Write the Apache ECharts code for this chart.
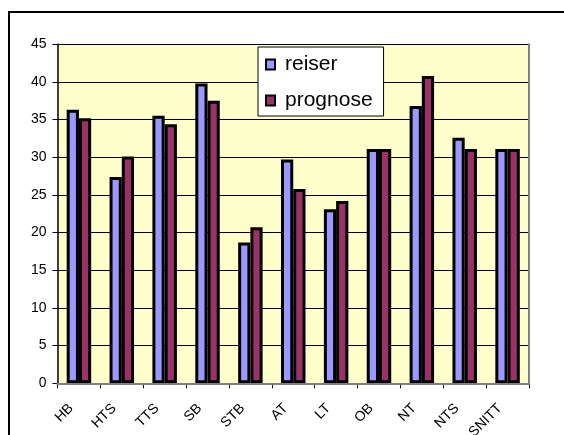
<!DOCTYPE html>
<html>
<head>
<meta charset="utf-8">
<script src="https://cdn.jsdelivr.net/npm/echarts@6/dist/echarts.min.js"></script>
<style>
  html, body { margin: 0; padding: 0; background: #ffffff; }
  #chart { width: 564px; height: 435px; }
</style>
</head>
<body>
<div id="chart"></div>
<script>
// Station categories along the x axis
const categories = ['HB', 'HTS', 'TTS', 'SB', 'STB', 'AT', 'LT', 'OB', 'NT', 'NTS', 'SNITT'];

// Observed trips per station
const reiser = [36.3, 27.4, 35.5, 39.8, 18.7, 29.7, 23.1, 31.1, 36.8, 32.6, 31.1];

// Forecast trips per station
const prognose = [35.2, 30.1, 34.4, 37.5, 20.7, 25.8, 24.2, 31.1, 40.8, 31.1, 31.1];

// Value axis range and step
const yMin = 0;
const yMax = 45;
const yStep = 5;

const FONT = '"Liberation Sans", Arial, sans-serif';

const chart = echarts.init(document.getElementById('chart'), null, { renderer: 'canvas' });

chart.setOption({
  animation: false,
  backgroundColor: '#ffffff',
  textStyle: { fontFamily: FONT, color: '#000000' },
  graphic: [{
    // outer chart-area frame
    type: 'rect',
    shape: { x: 9, y: 12, width: 700, height: 600 },
    style: { fill: 'none', stroke: '#000000', lineWidth: 2 },
    silent: true,
    z: 100
  }],
  grid: {
    left: 57.5,
    right: 35,
    top: 44.3,
    bottom: 51.7,
    containLabel: false,
    outerBoundsMode: 'none',
    show: true,
    backgroundColor: '#FFFFCC',
    borderWidth: 0
  },
  legend: {
    left: 258,
    top: 47,
    orient: 'vertical',
    backgroundColor: '#ffffff',
    borderColor: '#000000',
    borderWidth: 1,
    borderRadius: 0,
    padding: [7, 11, 5, 7],
    itemWidth: 9,
    itemHeight: 10,
    itemGap: 15,
    icon: 'rect',
    itemStyle: { borderColor: '#000000', borderWidth: 2 },
    textStyle: {
      fontFamily: FONT,
      fontSize: 21,
      lineHeight: 20,
      color: '#000000',
      padding: [0, 0, 0, 5]
    },
    data: ['reiser', 'prognose']
  },
  xAxis: [{
    type: 'category',
    data: categories,
    boundaryGap: true,
    axisLine: { show: true, lineStyle: { color: '#000000', width: 1.5 } },
    axisTick: { show: true, length: 5, inside: false, lineStyle: { color: '#000000', width: 1 } },
    axisLabel: {
      rotate: 45,
      margin: 15,
      padding: [0, 11, 0, 0],
      fontFamily: FONT,
      fontSize: 14,
      color: '#000000'
    },
    splitLine: { show: false }
  }, {
    // top edge of the plot frame
    type: 'category',
    data: categories,
    position: 'top',
    z: 5,
    axisLine: { show: true, lineStyle: { color: '#808080', width: 2 } },
    axisTick: { show: false },
    axisLabel: { show: false },
    splitLine: { show: false }
  }],
  yAxis: [{
    type: 'value',
    min: yMin,
    max: yMax,
    interval: yStep,
    axisLine: { show: true, lineStyle: { color: '#000000', width: 1.5 } },
    axisTick: { show: true, length: 5, inside: false, lineStyle: { color: '#000000', width: 1 } },
    axisLabel: {
      margin: 11,
      fontFamily: FONT,
      fontSize: 14,
      color: '#000000'
    },
    splitLine: { show: true, lineStyle: { color: '#000000', width: 1 } }
  }, {
    // right edge of the plot frame
    type: 'value',
    min: yMin,
    max: yMax,
    interval: yStep,
    position: 'right',
    z: 5,
    axisLine: { show: true, lineStyle: { color: '#808080', width: 2 } },
    axisTick: { show: false },
    axisLabel: { show: false },
    splitLine: { show: false }
  }],
  series: [{
    name: 'reiser',
    type: 'bar',
    data: reiser,
    barGap: '0%',
    barCategoryGap: '42.9%',
    itemStyle: { color: '#9999FF', borderColor: '#000000', borderWidth: 3 }
  }, {
    name: 'prognose',
    type: 'bar',
    data: prognose,
    barGap: '0%',
    barCategoryGap: '42.9%',
    itemStyle: { color: '#993366', borderColor: '#000000', borderWidth: 3 }
  }]
});
</script>
</body>
</html>
